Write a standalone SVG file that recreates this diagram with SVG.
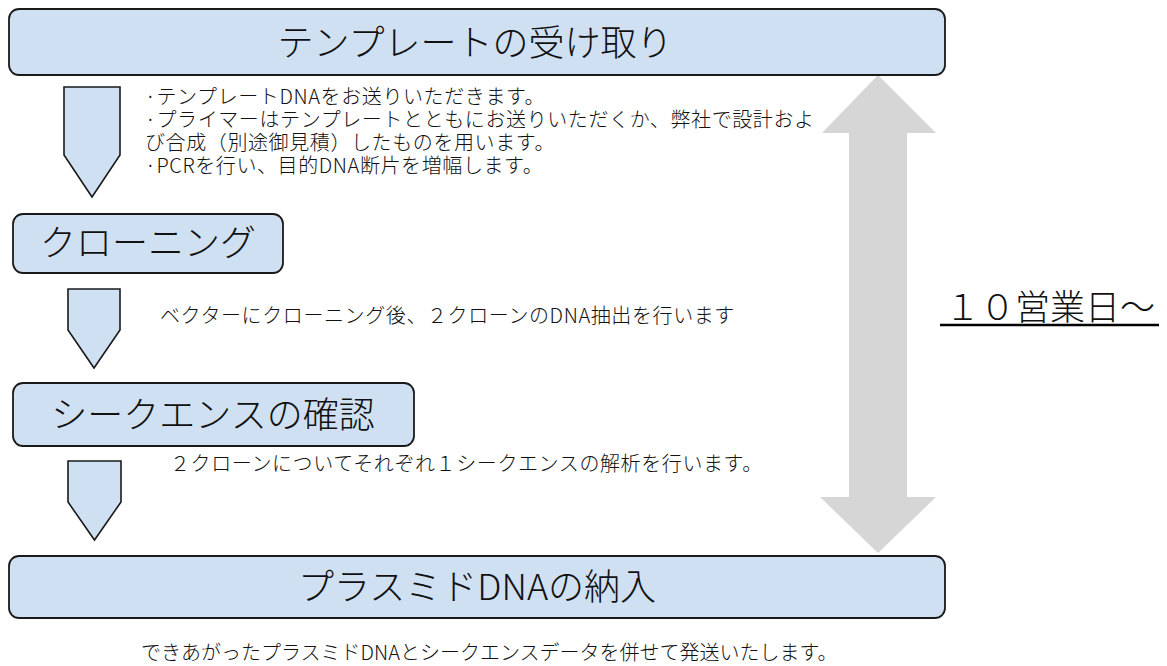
<svg xmlns="http://www.w3.org/2000/svg" width="1167" height="666" viewBox="0 0 1167 666">
<style>
.box{fill:#cfe0f2;stroke:#1a1a1a;stroke-width:1.8}
.ar{fill:#cfe0f2;stroke:#1a1a1a;stroke-width:1.6;stroke-linejoin:miter}
.gray{fill:#d6d6d6}
.t{font-family:"Noto Sans CJK JP","Noto Sans",sans-serif;fill:#111}
.title{font-size:36px;font-weight:300}
.small{font-size:20px;letter-spacing:0.6px;font-weight:300}
</style>
<rect width="1167" height="666" fill="#ffffff"/>
<g id="connectors">
<polygon id="a1" class="ar" points="64,87 120,87 120,155 92,197 64,155"/>
<polygon id="a2" class="ar" points="68,289 120,289 120,330 94,368 68,330"/>
<polygon id="a3" class="ar" points="68,461 121,461 121,502 94.5,540 68,502"/>
<polygon id="span-top" class="gray" points="878,75 936,133 907,133 907,321.5 849,321.5 849,133 822,133"/>
<polygon id="span-bot" class="gray" points="849,321 907,321 907,497 936,497 878,553 820,497 849,497"/>
</g>
<g id="n1">
<rect class="box" x="9" y="9" width="936" height="66" rx="10"/>
<text class="t title" x="475" y="56" text-anchor="middle">テンプレートの受け取り</text>
</g>
<g id="n1-notes">
<text class="t small" x="145" y="104">·テンプレートDNAをお送りいただきます。</text>
<text class="t small" x="145" y="127">·プライマーはテンプレートとともにお送りいただくか、弊社で設計およ</text>
<text class="t small" x="145" y="150">び合成（別途御見積）したものを用います。</text>
<text class="t small" x="145" y="173">·PCRを行い、目的DNA断片を増幅します。</text>
</g>
<g id="n2">
<rect class="box" x="13" y="214" width="270" height="59" rx="10"/>
<text class="t title" x="148" y="256" text-anchor="middle">クローニング</text>
</g>
<g id="n2-notes">
<text class="t small" x="160" y="323">ベクターにクローニング後、２クローンのDNA抽出を行います</text>
</g>
<g id="n3">
<rect class="box" x="13" y="383" width="401" height="63" rx="10"/>
<text class="t title" x="213" y="428" text-anchor="middle">シークエンスの確認</text>
</g>
<g id="n3-notes">
<text class="t small" x="170" y="471">２クローンについてそれぞれ１シークエンスの解析を行います。</text>
</g>
<g id="n4">
<rect class="box" x="9" y="556" width="936" height="62" rx="10"/>
<text class="t title" x="477" y="600" text-anchor="middle">プラスミドDNAの納入</text>
</g>
<g id="n4-notes">
<text class="t" font-size="20" font-weight="300" x="141" y="660">できあがったプラスミドDNAとシークエンスデータを併せて発送いたします。</text>
</g>
<g id="span-label">
<text class="t" x="945" y="320" font-size="35" font-weight="300">１０営業日〜</text>
<line x1="940" y1="325" x2="1159" y2="325" stroke="#000" stroke-width="2.4"/>
</g>
</svg>
